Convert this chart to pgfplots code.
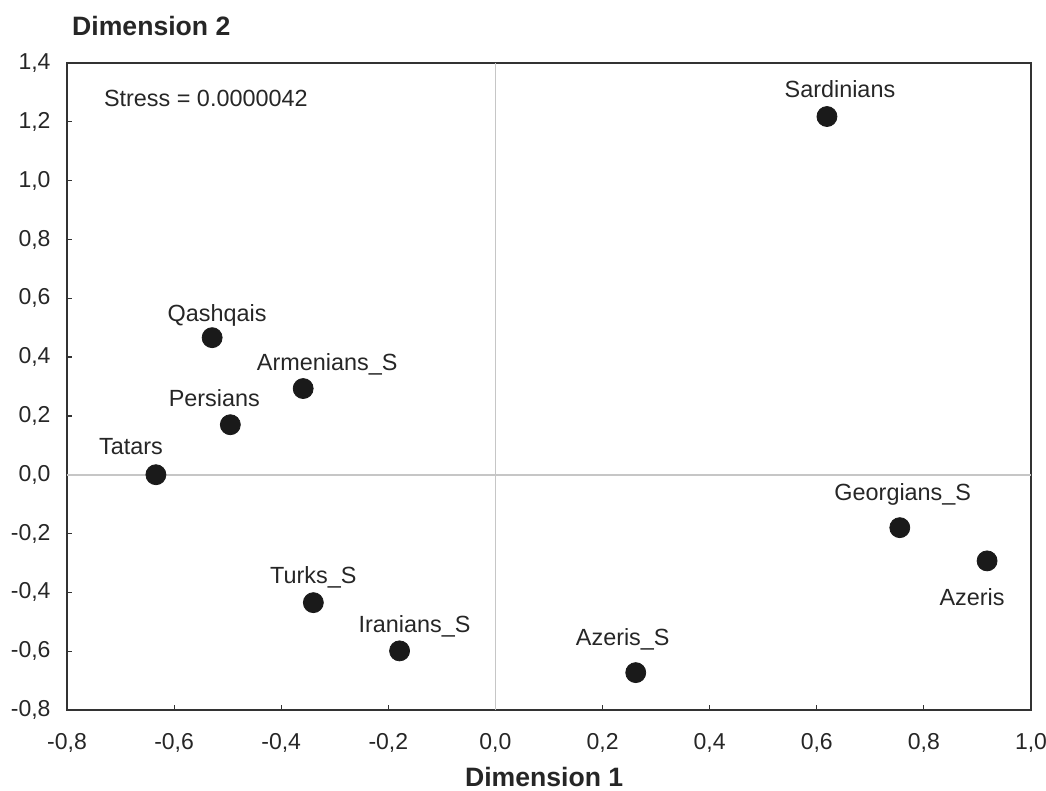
\documentclass[border=0pt]{standalone}
\usepackage{fontspec}
\setmainfont{Liberation Sans}
\usepackage{pgfplots}
\pgfplotsset{compat=1.18}
\definecolor{dot}{HTML}{1A1A1A}
\definecolor{txt}{HTML}{262626}
\newcommand{\lab}{\fontsize{11.7}{13}\selectfont\color{txt}}
\begin{document}
\begin{tikzpicture}
\path[use as bounding box] (0,0) rectangle (523pt,395.5pt);
\begin{axis}[
  at={(33.5pt,40.5pt)}, anchor=south west,
  scale only axis, width=482pt, height=323.5pt,
  xmin=-0.8, xmax=1.0, ymin=-0.8, ymax=1.4,
  xtick={-0.8,-0.6,-0.4,-0.2,0,0.2,0.4,0.6,0.8,1.0},
  ytick={-0.8,-0.6,-0.4,-0.2,0,0.2,0.4,0.6,0.8,1.0,1.2,1.4},
  tick align=inside, xtick pos=bottom, ytick pos=left,
  major tick length=2.5pt,
  tick style={line width=0.6pt, color=black!80},
  axis line style={line width=1pt, color=black!80},
  ticklabel style={font=\fontsize{11.5}{13}\selectfont, text=txt},
  /pgf/number format/use comma,
  /pgf/number format/fixed,
  /pgf/number format/fixed zerofill,
  /pgf/number format/precision=1,
  /pgf/number format/assume math mode=true,
  xticklabel style={yshift=-8.2pt},
  yticklabel style={xshift=-4.7pt},
  clip=false,
]
\draw[gray!45, line width=0.8pt] (axis cs:0,-0.8) -- (axis cs:0,1.4);
\draw[gray!45, line width=0.8pt] (axis cs:-0.8,0) -- (axis cs:1.0,0);
\addplot[only marks, mark=*, mark size=5pt, mark options={fill=dot, draw=dot}] table {
x y
0.619 1.218
-0.529 0.466
-0.359 0.293
-0.495 0.170
-0.634 0.000
-0.340 -0.435
-0.179 -0.599
0.262 -0.673
0.755 -0.180
0.918 -0.293
};
\node[anchor=base, xshift=6.5pt, yshift=9.3pt, font=\lab] at (axis cs:0.619,1.218) {Sardinians};
\node[anchor=base, xshift=2.5pt, yshift=8.3pt, font=\lab] at (axis cs:-0.529,0.466) {Qashqais};
\node[anchor=base, xshift=12pt, yshift=8.8pt, font=\lab] at (axis cs:-0.359,0.293) {Armenians\_S};
\node[anchor=base, xshift=-8pt, yshift=9.3pt, font=\lab] at (axis cs:-0.495,0.170) {Persians};
\node[anchor=base, xshift=-12.5pt, yshift=10.3pt, font=\lab] at (axis cs:-0.634,0.000) {Tatars};
\node[anchor=base, xshift=0pt, yshift=9.8pt, font=\lab] at (axis cs:-0.340,-0.435) {Turks\_S};
\node[anchor=base, xshift=7.5pt, yshift=9.3pt, font=\lab] at (axis cs:-0.179,-0.599) {Iranians\_S};
\node[anchor=base, xshift=-6.5pt, yshift=13.8pt, font=\lab] at (axis cs:0.262,-0.673) {Azeris\_S};
\node[anchor=base, xshift=1.5pt, yshift=13.8pt, font=\lab] at (axis cs:0.755,-0.180) {Georgians\_S};
\node[anchor=base, xshift=-7.5pt, yshift=-22.2pt, font=\lab] at (axis cs:0.918,-0.293) {Azeris};
\node[anchor=base west, inner sep=0pt, font=\fontsize{11.7}{13}\selectfont\color{txt}] at (axis description cs:0.038,0.9329) {Stress = 0.0000042};
\node[anchor=base west, inner sep=0pt, font=\bfseries\fontsize{13.3}{15}\selectfont\color{txt}] at (axis description cs:0.005,1.0425) {Dimension 2};
\node[anchor=base, inner sep=0pt, font=\bfseries\fontsize{13.3}{15}\selectfont\color{txt}] at (axis description cs:0.495,-0.118) {Dimension 1};
\end{axis}
\end{tikzpicture}
\end{document}
